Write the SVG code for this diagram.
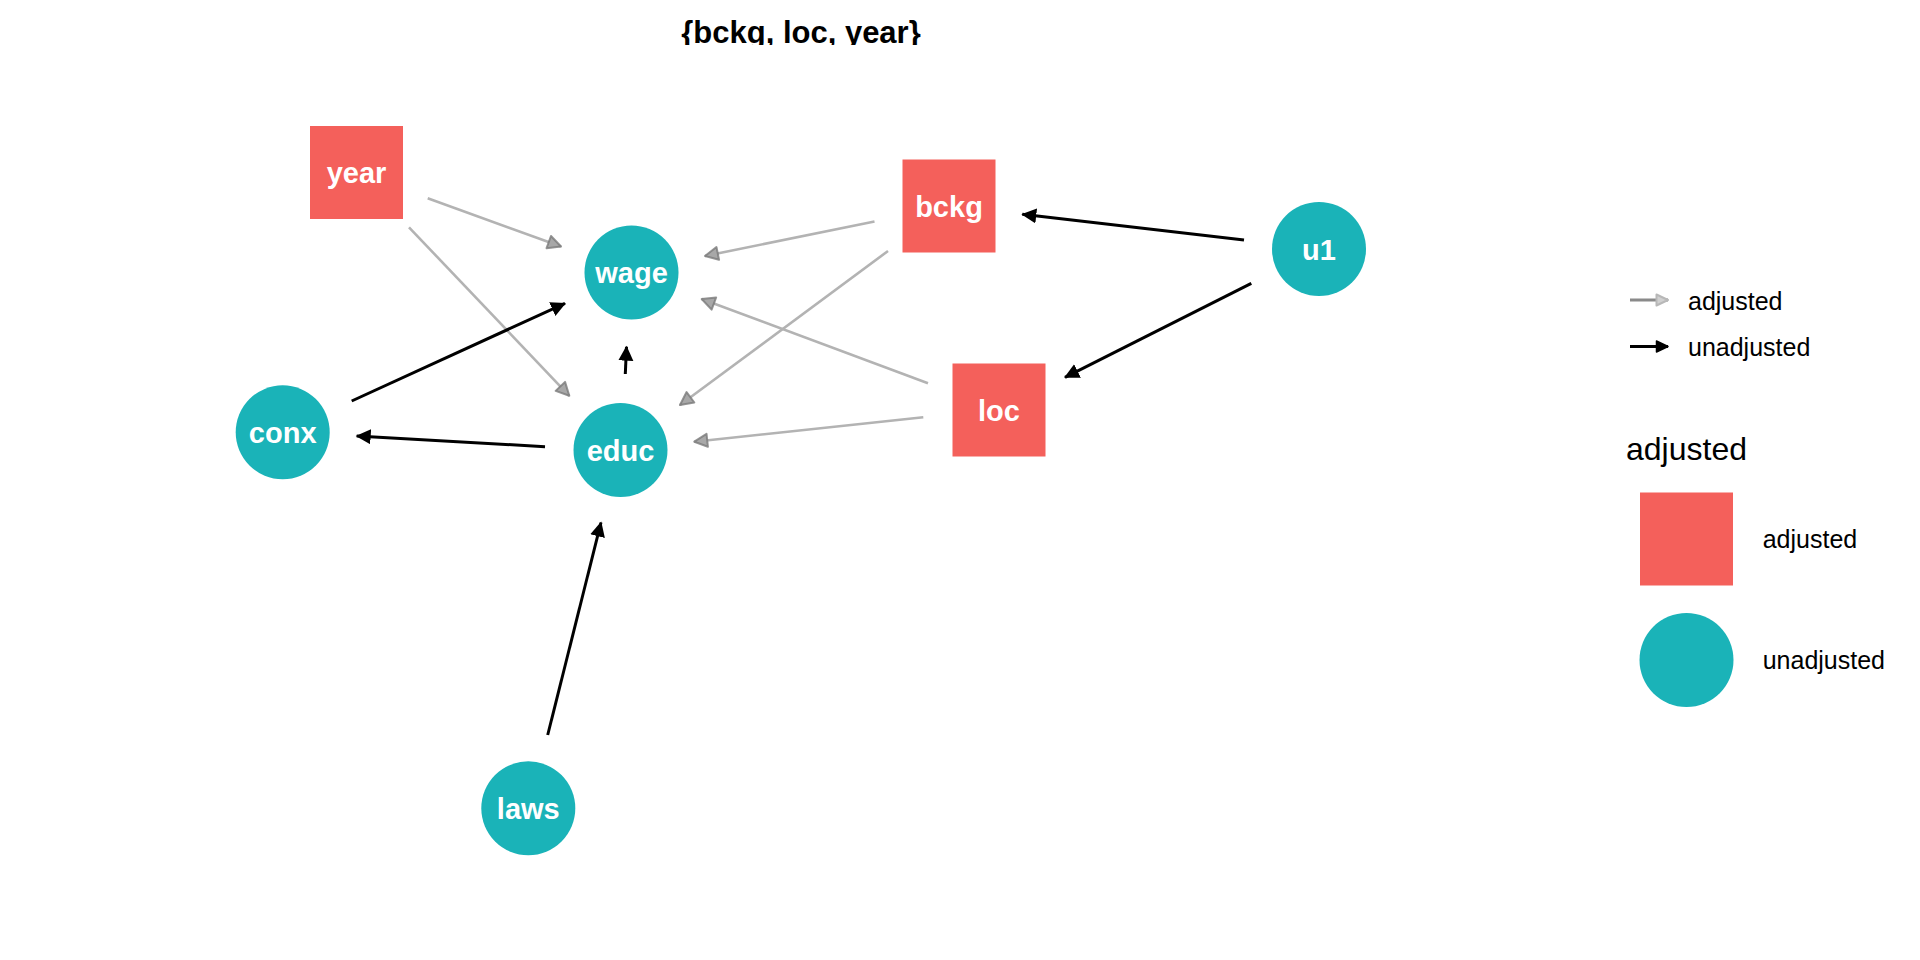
<svg xmlns="http://www.w3.org/2000/svg" width="1920" height="960" viewBox="0 0 1920 960">
  <defs>
    <style>
      .adj { fill: #F4605B; }
      .unadj { fill: #1AB3B8; }
      .lbl { font-family: "Liberation Sans", Arial, sans-serif; font-weight: bold; font-size: 29px; fill: #FFFFFF; text-anchor: middle; }
      .leg { font-family: "Liberation Sans", Arial, sans-serif; font-size: 25px; fill: #000000; }
      .legtitle { font-family: "Liberation Sans", Arial, sans-serif; font-size: 32px; fill: #000000; }
      .title { font-family: "Liberation Sans", Arial, sans-serif; font-weight: bold; font-size: 31px; fill: #000000; text-anchor: middle; }
      .eg { stroke: #B3B3B3; stroke-width: 2.6; fill: none; marker-end: url(#ahg); }
      .eb { stroke: #000000; stroke-width: 3; fill: none; marker-end: url(#ahb); }
    </style>
    <marker id="ahb" markerUnits="userSpaceOnUse" markerWidth="16" markerHeight="16" refX="14" refY="7.5" orient="auto" viewBox="0 0 16 16">
      <path d="M0,0 L15,7.5 L0,15 Z" fill="#000000"/>
    </marker>
    <marker id="ahg" markerUnits="userSpaceOnUse" markerWidth="18" markerHeight="18" refX="14" refY="7.5" orient="auto" viewBox="-1 -1 18 18">
      <path d="M1,1 L14,7.5 L1,14 Z" fill="#A8A8A8" stroke="#7A7A7A" stroke-width="2" stroke-opacity="0.8" stroke-linejoin="round"/>
    </marker>
    <marker id="lhg" markerUnits="userSpaceOnUse" markerWidth="16" markerHeight="16" refX="12" refY="6" orient="auto" viewBox="-1 -1 16 16">
      <path d="M0.5,0.5 L12,6 L0.5,11.5 Z" fill="#D0D0D0" stroke="#B8B8B8" stroke-width="2" stroke-linejoin="round"/>
    </marker>
    <marker id="lhb" markerUnits="userSpaceOnUse" markerWidth="16" markerHeight="16" refX="12" refY="6" orient="auto" viewBox="-1 -1 16 16">
      <path d="M0.5,0.5 L12,6 L0.5,11.5 Z" fill="#000000" stroke="#000000" stroke-width="1.5" stroke-linejoin="round"/>
    </marker>
    <clipPath id="titleclip">
      <rect x="0" y="0" width="1920" height="45"/>
    </clipPath>
  </defs>

  <rect x="0" y="0" width="1920" height="960" fill="#FFFFFF"/>

  <text class="title" x="801" y="43" clip-path="url(#titleclip)">{bckg, loc, year}</text>

  <g id="connectors">
    <line class="eg" x1="427.7" y1="198.3" x2="561" y2="246.5"/>
    <line class="eg" x1="409" y1="227.3" x2="569.3" y2="395.8"/>
    <line class="eg" x1="874.5" y1="221.5" x2="705" y2="256"/>
    <line class="eg" x1="888" y1="251" x2="680" y2="405"/>
    <line class="eg" x1="928" y1="383.3" x2="701.7" y2="299"/>
    <line class="eg" x1="923.3" y1="417.3" x2="694.3" y2="441.7"/>
    <line class="eb" x1="351.7" y1="401" x2="565" y2="303.3"/>
    <line class="eb" x1="625.3" y1="374" x2="626.5" y2="346.7"/>
    <line class="eb" x1="545" y1="446.7" x2="356.7" y2="436"/>
    <line class="eb" x1="547.7" y1="735" x2="601" y2="522.5"/>
    <line class="eb" x1="1244" y1="240" x2="1022.3" y2="214.3"/>
    <line class="eb" x1="1251.3" y1="283.3" x2="1065" y2="377.3"/>
  </g>

  <g id="node-year">
    <rect class="adj" x="310" y="126" width="93" height="93"/>
    <text class="lbl" x="356.5" y="183">year</text>
  </g>
  <g id="node-bckg">
    <rect class="adj" x="902.5" y="159.5" width="93" height="93"/>
    <text class="lbl" x="949" y="216.5">bckg</text>
  </g>
  <g id="node-loc">
    <rect class="adj" x="952.5" y="363.5" width="93" height="93"/>
    <text class="lbl" x="999" y="420.5">loc</text>
  </g>
  <g id="node-wage">
    <circle class="unadj" cx="631.5" cy="272.5" r="47"/>
    <text class="lbl" x="631.5" y="283">wage</text>
  </g>
  <g id="node-educ">
    <circle class="unadj" cx="620.5" cy="450" r="47"/>
    <text class="lbl" x="620.5" y="460.5">educ</text>
  </g>
  <g id="node-conx">
    <circle class="unadj" cx="282.7" cy="432.3" r="47"/>
    <text class="lbl" x="282.7" y="442.8">conx</text>
  </g>
  <g id="node-laws">
    <circle class="unadj" cx="528.3" cy="808.3" r="47"/>
    <text class="lbl" x="528.3" y="818.8">laws</text>
  </g>
  <g id="node-u1">
    <circle class="unadj" cx="1319" cy="249" r="47"/>
    <text class="lbl" x="1319" y="259.5">u1</text>
  </g>

  <g id="legend">
    <line x1="1630" y1="300" x2="1668" y2="300" stroke="#8A8A8A" stroke-width="3" marker-end="url(#lhg)"/>
    <text class="leg" x="1688" y="309.5">adjusted</text>
    <line x1="1630" y1="346.5" x2="1668" y2="346.5" stroke="#000000" stroke-width="3" marker-end="url(#lhb)"/>
    <text class="leg" x="1688" y="356">unadjusted</text>
    <text class="legtitle" x="1626" y="460">adjusted</text>
    <rect class="adj" x="1640" y="492.5" width="93" height="93"/>
    <text class="leg" x="1762.7" y="547.5">adjusted</text>
    <circle class="unadj" cx="1686.5" cy="660" r="47"/>
    <text class="leg" x="1762.7" y="669">unadjusted</text>
  </g>
</svg>
